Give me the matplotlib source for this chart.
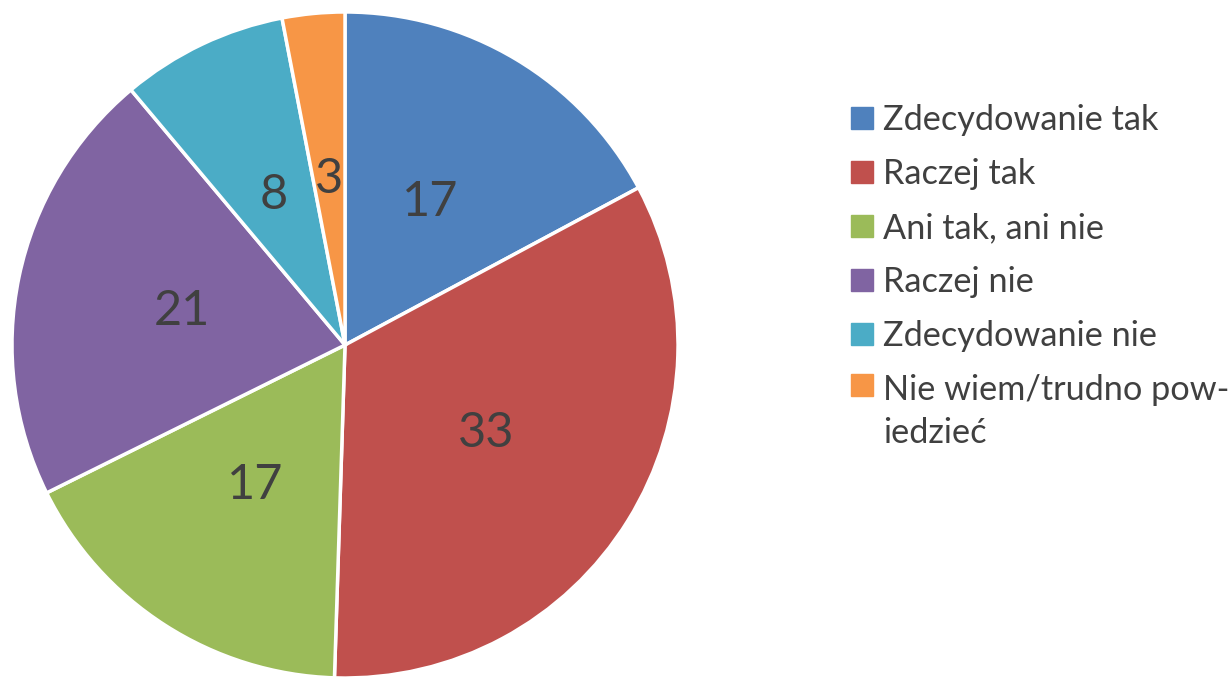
import matplotlib.pyplot as plt
from matplotlib.patches import Patch

labels = ["Zdecydowanie tak", "Raczej tak", "Ani tak, ani nie", "Raczej nie",
          "Zdecydowanie nie", "Nie wiem/trudno pow-\niedzieć"]
values = [17, 33, 17, 21, 8, 3]
colors = ["#4F81BD", "#C0504D", "#9BBB59", "#8064A2", "#4BACC6", "#F79646"]

plt.rcParams['font.family'] = ['Lato', 'DejaVu Sans']
text_color = "#404040"

fig = plt.figure(figsize=(12.32, 6.77), dpi=100)
ax = fig.add_axes([0.00974, -0.0015, 0.5406, 0.9838])

wedges, texts = ax.pie(values, colors=colors, startangle=90, counterclock=False,
                       labels=[str(v) for v in values], labeldistance=0.5,
                       wedgeprops=dict(edgecolor="white", linewidth=2.5))
for t in texts:
    t.set_fontsize(35)
    t.set_color(text_color)
    t.set_ha("center")
    t.set_va("center")
ax.set_xlim(-1.0, 1.0)
ax.set_ylim(-1.0, 1.0)
ax.set_aspect("equal")

handles = [Patch(facecolor=c, edgecolor=c) for c in colors]
leg = fig.legend(handles, labels, loc="upper left", bbox_to_anchor=(0.666, 0.892),
                 frameon=False, fontsize=24.7, handlelength=0.62, handleheight=0.62,
                 handletextpad=0.3, labelspacing=0.64, labelcolor=text_color)
leg.get_texts()[-1].set_linespacing(1.45)
# marker of the wrapped entry sits next to its first line
rows = leg._legend_handle_box.get_children()[0].get_children()
rows[-1].align = "top"

fig.savefig("out.png", dpi=100)
